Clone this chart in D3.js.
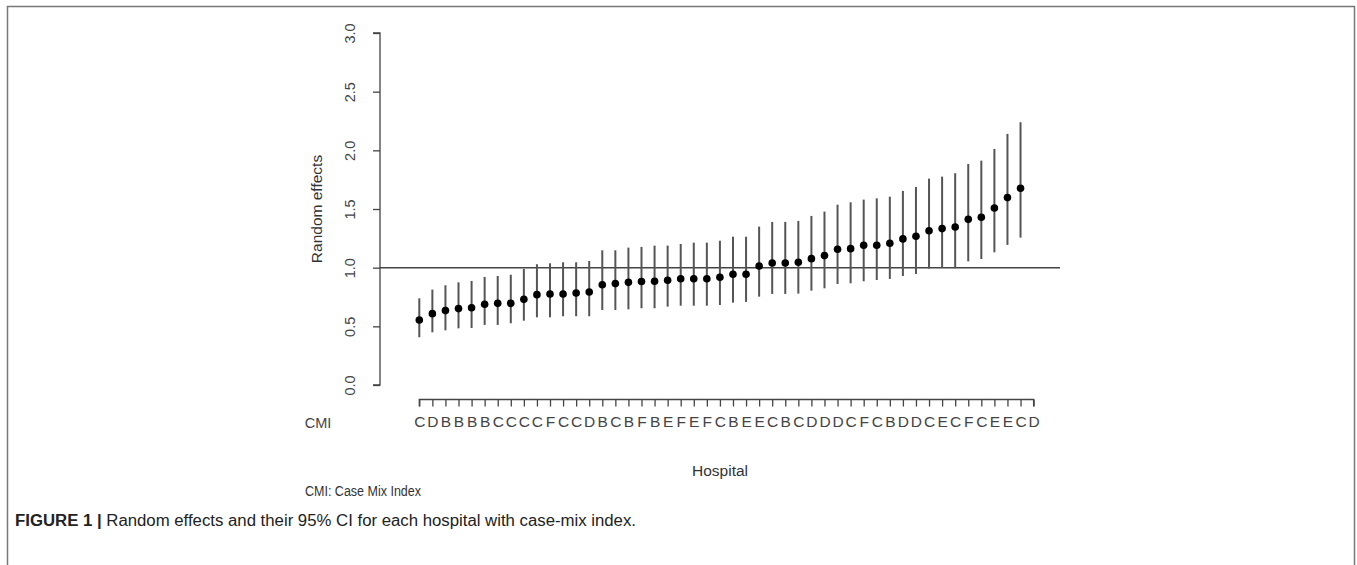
<!DOCTYPE html>
<html>
<head>
<meta charset="utf-8">
<script src="https://cdn.jsdelivr.net/npm/d3@7"></script>
<style>
  html, body { margin: 0; padding: 0; background: #fff; }
  svg { display: block; }
  text { font-family: "Liberation Sans", Arial, sans-serif; }
</style>
</head>
<body>
<svg id="chart" width="1357" height="565"></svg>
<script>
// ---- data ----
const cmi = ["C","D","B","B","B","B","C","C","C","C","F","C","C","D","B","C","B","F","B","E",
             "F","E","F","C","B","E","E","C","B","C","D","D","D","C","F","C","B","D","D","C",
             "E","C","F","C","E","E","C","D"];
const estimate = [0.554,0.608,0.634,0.651,0.659,0.688,0.696,0.696,0.730,0.770,
                  0.776,0.776,0.784,0.793,0.855,0.864,0.875,0.882,0.884,0.893,
                  0.906,0.906,0.906,0.918,0.944,0.944,1.014,1.040,1.040,1.046,
                  1.077,1.103,1.157,1.162,1.191,1.191,1.208,1.245,1.268,1.315,
                  1.333,1.347,1.412,1.430,1.509,1.597,1.677,null];
const lower = [0.407,0.449,0.466,0.483,0.486,0.512,0.512,0.526,0.548,0.577,
               0.577,0.586,0.586,0.586,0.639,0.639,0.645,0.654,0.654,0.668,
               0.676,0.676,0.676,0.682,0.702,0.708,0.753,0.776,0.776,0.779,
               0.804,0.824,0.861,0.867,0.884,0.895,0.904,0.929,0.946,0.992,
               1.000,0.995,1.054,1.074,1.131,1.194,1.256,null];
const upper = [0.739,0.813,0.850,0.875,0.887,0.921,0.929,0.940,0.989,1.029,
               1.037,1.046,1.046,1.057,1.148,1.148,1.171,1.177,1.188,1.188,
               1.202,1.213,1.213,1.230,1.264,1.264,1.350,1.390,1.390,1.398,
               1.441,1.478,1.537,1.557,1.580,1.591,1.605,1.654,1.688,1.759,
               1.776,1.805,1.884,1.912,2.012,2.140,2.240,null];
const yTicks = [0, 0.5, 1, 1.5, 2, 2.5, 3];
const yTickLabels = ["0.0","0.5","1.0","1.5","2.0","2.5","3.0"];
const refValue = 1;

const svg = d3.select("#chart");
const ink = "#444";

// frame
svg.append("rect").attr("x", 7.5).attr("y", 6.5).attr("width", 1347).attr("height", 620)
  .attr("fill", "none").attr("stroke", "#777").attr("stroke-width", 1.5);

// scales
const idx = cmi.map((d, i) => i);
const x = d3.scalePoint().domain(idx).range([419.3, 1033.6]);
const y = d3.scaleLinear().domain([0, 3]).range([385, 33]);

// y axis
const yAxis = d3.axisLeft(y).tickValues(yTicks).tickSize(7).tickFormat((d, i) => yTickLabels[i]);
const gy = svg.append("g").attr("transform", "translate(380,0)").call(yAxis);
gy.select(".domain").attr("stroke", ink).attr("stroke-width", 1.3).attr("d", `M-7,${y(0)}H0V${y(3)}H-7`);
gy.selectAll(".tick line").attr("stroke", ink).attr("stroke-width", 1.3);
gy.selectAll(".tick text")
  .attr("fill", "#444").attr("font-size", 14.5)
  .attr("x", null).attr("dy", null)
  .attr("text-anchor", "middle")
  .attr("transform", "translate(-25,0) rotate(-90)");

svg.append("text").attr("transform", `translate(322,${(y(0)+y(3))/2}) rotate(-90)`)
  .attr("text-anchor", "middle").attr("font-size", 15.5).attr("fill", "#333").text("Random effects");

// reference line
svg.append("line").attr("x1", 380).attr("x2", 1060).attr("y1", y(refValue)).attr("y2", y(refValue))
  .attr("stroke", "#444").attr("stroke-width", 1.5);

// x axis (CMI letters)
const xAxis = d3.axisBottom(x).tickSize(7).tickFormat(i => cmi[i]);
const gx = svg.append("g").attr("transform", "translate(0,399.5)").call(xAxis);
gx.select(".domain").attr("stroke", ink).attr("stroke-width", 1.3)
  .attr("d", `M${x(0)},7V0H${x(cmi.length-1)}V7`);
gx.selectAll(".tick line").attr("stroke", ink).attr("stroke-width", 1.3);
gx.selectAll(".tick text").attr("fill", "#444").attr("font-size", 15.5).attr("y", 16).attr("dy", "0.71em");

svg.append("text").attr("x", 318).attr("y", 428).attr("text-anchor", "middle")
  .attr("font-size", 14.5).attr("fill", "#444").text("CMI");

svg.append("text").attr("x", 720).attr("y", 476).attr("text-anchor", "middle")
  .attr("font-size", 15.5).attr("fill", "#333").text("Hospital");

const note = svg.append("text").attr("x", 305).attr("y", 496)
  .attr("font-size", 14).attr("fill", "#333").text("CMI: Case Mix Index");
note.attr("textLength", 116).attr("lengthAdjust", "spacingAndGlyphs");

// CI lines and points
const rows = idx.filter(i => estimate[i] != null);
svg.append("g").selectAll("line").data(rows).join("line")
  .attr("x1", i => x(i)).attr("x2", i => x(i))
  .attr("y1", i => y(lower[i])).attr("y2", i => y(upper[i]))
  .attr("stroke", "#555").attr("stroke-width", 2);
svg.append("g").selectAll("circle").data(rows).join("circle")
  .attr("cx", i => x(i)).attr("cy", i => y(estimate[i])).attr("r", 3.8)
  .attr("fill", "#000");

// caption
const cap = svg.append("text").attr("x", 15).attr("y", 526).attr("font-size", 16).attr("fill", "#222");
cap.append("tspan").attr("font-weight", "bold").text("FIGURE 1 |");
cap.append("tspan").text(" Random effects and their 95% CI for each hospital with case-mix index.");
cap.attr("textLength", 621).attr("lengthAdjust", "spacingAndGlyphs");
</script>
</body>
</html>
